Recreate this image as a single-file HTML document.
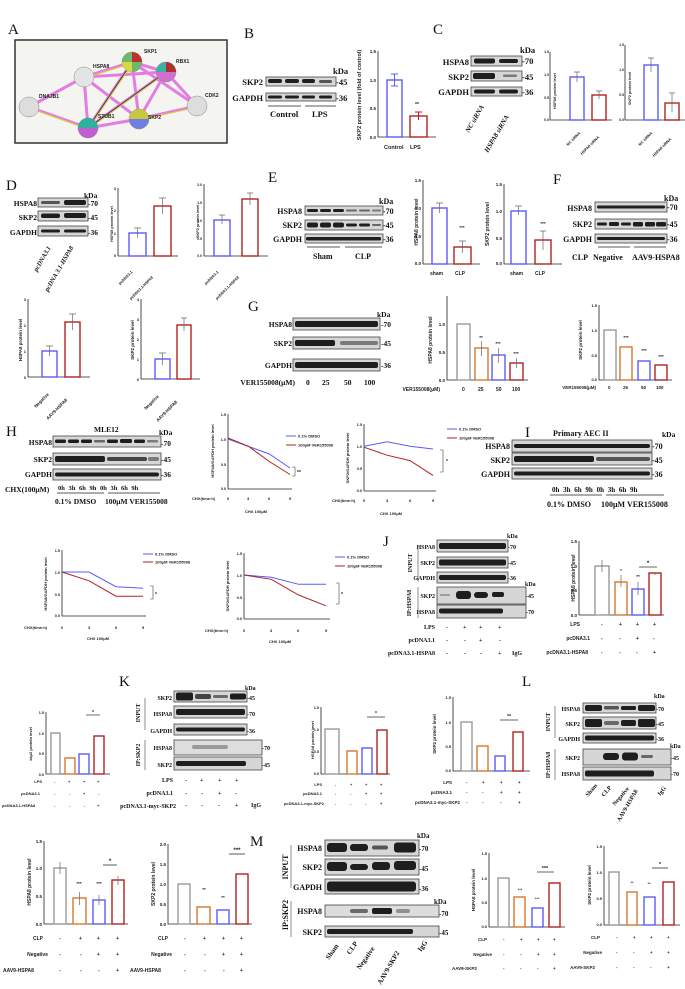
<!DOCTYPE html>
<html><head><meta charset="utf-8"><style>
html,body{margin:0;padding:0;background:#fff;width:685px;height:989px;overflow:hidden}
svg{display:block}
.s{font-family:"Liberation Sans",sans-serif;font-weight:bold;fill:#222}
.r{font-family:"Liberation Serif",serif;font-weight:bold;fill:#111}
.L{font-family:"Liberation Serif",serif;font-size:15px;fill:#111}
.ax{stroke:#222;stroke-width:0.8;fill:none}
.bl{fill:#d6d6d6;stroke:#444;stroke-width:0.8}
.bd{fill:#1e1e1e}
.bB{fill:none;stroke:#5b5bff;stroke-width:1.4}
.bR{fill:none;stroke:#b22222;stroke-width:1.4}
.bG{fill:none;stroke:#999;stroke-width:1.4}
.bO{fill:none;stroke:#d9782d;stroke-width:1.4}
</style></head><body>
<svg width="685" height="989" viewBox="0 0 685 989" xmlns="http://www.w3.org/2000/svg">
<!-- A -->
<text class="L" x="8" y="34">A</text>
<rect x="15" y="40" width="212" height="103" fill="#f4f4f0" stroke="#333" stroke-width="1.5"/>
<g stroke-width="3" stroke="#e060e0" opacity="0.8">
<line x1="29" y1="107" x2="84" y2="77"/><line x1="29" y1="107" x2="88" y2="128"/>
<line x1="84" y1="77" x2="132" y2="62"/><line x1="84" y1="77" x2="166" y2="72"/><line x1="84" y1="77" x2="88" y2="128"/><line x1="84" y1="77" x2="139" y2="119"/>
<line x1="132" y1="62" x2="166" y2="72"/><line x1="132" y1="62" x2="139" y2="119"/><line x1="132" y1="62" x2="197" y2="106"/><line x1="132" y1="62" x2="88" y2="128"/>
<line x1="166" y1="72" x2="139" y2="119"/><line x1="166" y1="72" x2="197" y2="106"/><line x1="166" y1="72" x2="88" y2="128"/>
<line x1="88" y1="128" x2="139" y2="119"/><line x1="139" y1="119" x2="197" y2="106"/>
</g>
<g stroke-width="1" stroke="#d8d820">
<line x1="29" y1="108" x2="88" y2="129"/><line x1="85" y1="78" x2="133" y2="63"/><line x1="133" y1="63" x2="88" y2="129"/><line x1="139" y1="120" x2="197" y2="107"/><line x1="166" y1="73" x2="88" y2="129"/>
</g>
<g stroke-width="0.8" stroke="#333"><line x1="132" y1="62" x2="88" y2="128"/><line x1="166" y1="72" x2="88" y2="128"/></g>
<g stroke="#888" stroke-width="0.5">
<circle cx="84" cy="77" r="10" fill="#e4e4e4"/><circle cx="29" cy="107" r="10" fill="#ddd"/><circle cx="197" cy="106" r="10" fill="#ddd"/>
<circle cx="132" cy="62" r="10" fill="#6fb86f"/><circle cx="166" cy="72" r="10" fill="#d070d0"/><circle cx="88" cy="128" r="10" fill="#c060d0"/><circle cx="139" cy="119" r="10" fill="#7080e0"/>
</g>
<path d="M132 52 A10 10 0 0 1 142 62 L132 62Z" fill="#c03030"/><path d="M122 62 A10 10 0 0 0 132 72 L132 62Z" fill="#d8d840"/>
<path d="M166 62 A10 10 0 0 1 176 72 L166 72Z" fill="#b03030"/><path d="M156 72 A10 10 0 0 1 166 62 L166 72Z" fill="#40b0a0"/>
<path d="M78 128 A10 10 0 0 1 98 128Z" fill="#30b0a0"/><path d="M129 119 A10 10 0 0 1 149 119Z" fill="#c8c840"/>
<g class="s" font-size="5" font-weight="normal" fill="#333">
<text x="144" y="53">SKP1</text><text x="176" y="63">RBX1</text><text x="93" y="68">HSPA8</text><text x="39" y="98">DNAJB1</text><text x="98" y="118">STUB1</text><text x="148" y="119">SKP2</text><text x="205" y="97">CDK2</text></g>

<!-- B -->
<text class="L" x="244" y="38">B</text>
<rect class="bl" x="266" y="77" width="70" height="9"/>
<rect class="bd" x="268" y="79" width="14" height="4" rx="2"/><rect class="bd" x="285" y="79" width="14" height="4" rx="2"/><rect class="bd" x="302" y="79" width="13" height="4" rx="2"/><rect class="bd" x="319" y="80" width="13" height="3" rx="1.5" opacity=".7"/>
<rect class="bl" x="266" y="93" width="70" height="8"/>
<rect class="bd" x="268" y="95.5" width="14" height="3" rx="1.5"/><rect class="bd" x="285" y="95.5" width="14" height="3" rx="1.5"/><rect class="bd" x="302" y="95.5" width="13" height="3" rx="1.5"/><rect class="bd" x="319" y="95.5" width="13" height="3" rx="1.5"/>
<g class="r" font-size="8.5"><text x="263" y="85" text-anchor="end">SKP2</text><text x="263" y="101" text-anchor="end">GAPDH</text>
<text x="333" y="74">kDa</text><text x="336" y="85">-45</text><text x="336" y="101">-36</text>
<text x="270" y="117">Control</text><text x="312" y="117">LPS</text></g>
<line class="ax" x1="268" y1="106" x2="301" y2="106"/><line class="ax" x1="305" y1="106" x2="336" y2="106"/>
<path class="ax" d="M378 51V137H436"/>
<g class="s" font-size="4.5" text-anchor="end"><text x="376" y="53">1.5</text><text x="376" y="82">1.0</text><text x="376" y="110">0.5</text><text x="376" y="139">0.0</text></g>
<rect class="bB" x="387" y="80" width="15" height="57"/><rect class="bR" x="410" y="116" width="17" height="21"/>
<path d="M394.5 74V86M391 74H398M391 86H398" stroke="#5b5bff" fill="none"/><path d="M418.5 112V120M415 112H422" stroke="#b22222" fill="none"/>
<text class="s" x="417" y="106" font-size="5" fill="#b22222" text-anchor="middle">**</text>
<g class="s" font-size="5.5"><text x="384" y="149">Control</text><text x="410" y="149">LPS</text>
<text transform="translate(361,95) rotate(-90)" text-anchor="middle">SKP2 protein level (fold of control)</text></g>

<!-- C -->
<text class="L" x="433" y="34">C</text>
<rect class="bl" x="471" y="56" width="51" height="10"/><rect class="bd" x="474" y="58.5" width="21" height="5" rx="2"/><rect class="bd" x="499" y="59" width="19" height="4" rx="2"/>
<rect class="bl" x="471" y="71" width="51" height="10"/><rect class="bd" x="473" y="73" width="22" height="6" rx="2"/><rect class="bd" x="503" y="74.5" width="14" height="2.5" rx="1" opacity=".5"/>
<rect class="bl" x="471" y="87" width="51" height="9"/><rect class="bd" x="474" y="89.5" width="21" height="4" rx="2"/><rect class="bd" x="499" y="89.5" width="19" height="4" rx="2"/>
<g class="r" font-size="8.5"><text x="469" y="65" text-anchor="end">HSPA8</text><text x="469" y="80" text-anchor="end">SKP2</text><text x="469" y="95" text-anchor="end">GAPDH</text>
<text x="520" y="53">kDa</text><text x="522" y="64">-70</text><text x="522" y="80">-45</text><text x="522" y="95">-36</text></g>
<g class="r" font-size="7" font-style="italic"><text transform="translate(469,133) rotate(-60)">NC siRNA</text><text transform="translate(488,153) rotate(-60)">HSPA8 siRNA</text></g>
<path class="ax" d="M550 52V120H612"/>
<g class="s" font-size="3.5" text-anchor="end"><text x="549" y="53">1.5</text><text x="549" y="76">1.0</text><text x="549" y="99">0.5</text><text x="549" y="121">0.0</text></g>
<rect class="bB" x="570" y="77" width="14" height="43"/><rect class="bR" x="592" y="95" width="14" height="25"/>
<path d="M577 72V82M574 72H580M599 91V99M596 91H602" stroke="#666" fill="none" stroke-width=".7"/>
<g class="s" font-size="3.8"><text transform="translate(556,109) rotate(-90)">HSPA8 protein level</text>
<text transform="translate(568,146) rotate(-45)">NC siRNA</text><text transform="translate(582,155) rotate(-45)">HSPA8 siRNA</text></g>
<path class="ax" d="M625 45V120H686"/>
<g class="s" font-size="3.5" text-anchor="end"><text x="624" y="46">1.5</text><text x="624" y="71">1.0</text><text x="624" y="96">0.5</text><text x="624" y="121">0.0</text></g>
<rect class="bB" x="644" y="65" width="14" height="55"/><rect class="bR" x="665" y="103" width="14" height="17"/>
<path d="M651 58V72M648 58H654M672 93V112M669 93H675" stroke="#666" fill="none" stroke-width=".7"/>
<g class="s" font-size="3.8"><text transform="translate(631,105) rotate(-90)">SKP2 protein level</text>
<text transform="translate(640,146) rotate(-45)">NC siRNA</text><text transform="translate(654,157) rotate(-45)">HSPA8 siRNA</text></g>

<!-- D -->
<text class="L" x="6" y="190">D</text>
<rect class="bl" x="38" y="198" width="50" height="9"/><rect class="bd" x="41" y="201" width="19" height="3" rx="1.5" opacity=".7"/><rect class="bd" x="64" y="200" width="22" height="5" rx="2"/>
<rect class="bl" x="38" y="211" width="50" height="10"/><rect class="bd" x="41" y="213.5" width="19" height="4.5" rx="2"/><rect class="bd" x="64" y="213" width="22" height="5" rx="2"/>
<rect class="bl" x="38" y="226" width="50" height="10"/><rect class="bd" x="41" y="229.5" width="19" height="3" rx="1.5"/><rect class="bd" x="64" y="229.5" width="22" height="3" rx="1.5"/>
<g class="r" font-size="7.5"><text x="37" y="206" text-anchor="end">HSPA8</text><text x="37" y="220" text-anchor="end">SKP2</text><text x="37" y="235" text-anchor="end">GAPDH</text>
<text x="84" y="198">kDa</text><text x="88" y="206">-70</text><text x="88" y="220">-45</text><text x="88" y="235">-36</text></g>
<g class="r" font-size="6.5" font-style="italic"><text transform="translate(37,272) rotate(-60)">pcDNA3.1</text><text transform="translate(48,292) rotate(-60)">pcDNA 3.1-HSPA8</text></g>
<path class="ax" d="M118 188V256H178"/>
<g class="s" font-size="3.8" text-anchor="end"><text x="116" y="190">3</text><text x="116" y="212">2</text><text x="116" y="235">1</text><text x="116" y="257">0</text></g>
<rect class="bB" x="129" y="233" width="17" height="23"/><rect class="bR" x="154" y="206" width="17" height="50"/>
<path d="M137.5 228V238M134 228H141M162.5 198V214M159 198H166" stroke="#666" fill="none" stroke-width=".7"/>
<g class="s" font-size="3.8"><text transform="translate(113,242) rotate(-90)">HSPA8 protein level</text>
<text transform="translate(120,285) rotate(-45)">pcDNA3.1</text><text transform="translate(131,300) rotate(-45)">pcDNA3.1-HSPA8</text></g>
<path class="ax" d="M204 184V256H268"/>
<g class="s" font-size="3.5" text-anchor="end"><text x="202" y="186">2.0</text><text x="202" y="204">1.5</text><text x="202" y="222">1.0</text><text x="202" y="240">0.5</text><text x="202" y="257">0.0</text></g>
<rect class="bB" x="214" y="220" width="16" height="36"/><rect class="bR" x="242" y="199" width="16" height="57"/>
<path d="M222 215V224M219 215H225M250 193V205M247 193H253" stroke="#666" fill="none" stroke-width=".7"/>
<g class="s" font-size="3.8"><text transform="translate(199,238) rotate(-90)">SKP2 protein level</text>
<text transform="translate(206,285) rotate(-45)">pcDNA3.1</text><text transform="translate(217,300) rotate(-45)">pcDNA3.1-HSPA8</text></g>

<!-- E -->
<text class="L" x="268" y="182">E</text>
<rect class="bl" x="305" y="206" width="78" height="9"/>
<rect class="bd" x="307" y="209" width="11" height="3" rx="1.5"/><rect class="bd" x="320" y="209" width="11" height="3" rx="1.5"/><rect class="bd" x="333" y="209" width="11" height="3" rx="1.5"/><rect class="bd" x="346" y="209.5" width="11" height="2" rx="1" opacity=".6"/><rect class="bd" x="359" y="209.5" width="11" height="2" rx="1" opacity=".6"/><rect class="bd" x="372" y="209.5" width="9" height="2" rx="1" opacity=".5"/>
<rect class="bl" x="305" y="220" width="78" height="10"/>
<rect class="bd" x="307" y="222.5" width="11" height="5" rx="2"/><rect class="bd" x="320" y="222.5" width="11" height="5" rx="2"/><rect class="bd" x="333" y="222.5" width="11" height="5" rx="2"/><rect class="bd" x="346" y="223.5" width="11" height="3" rx="1.5"/><rect class="bd" x="359" y="223.5" width="11" height="3" rx="1.5"/><rect class="bd" x="372" y="224" width="9" height="2" rx="1" opacity=".6"/>
<rect class="bl" x="305" y="234" width="78" height="9"/>
<rect class="bd" x="306" y="237" width="75" height="3.5" rx="1.5"/>
<g class="r" font-size="8"><text x="302" y="214" text-anchor="end">HSPA8</text><text x="302" y="228" text-anchor="end">SKP2</text><text x="302" y="242" text-anchor="end">GAPDH</text>
<text x="379" y="204">kDa</text><text x="383" y="214">-70</text><text x="383" y="228">-45</text><text x="383" y="242">-36</text>
<text x="313" y="259">Sham</text><text x="355" y="259">CLP</text></g>
<line class="ax" x1="307" y1="247" x2="340" y2="247"/><line class="ax" x1="345" y1="247" x2="382" y2="247"/>
<path class="ax" d="M423 180V264H480"/>
<g class="s" font-size="4.5" text-anchor="end"><text x="421" y="182">1.5</text><text x="421" y="210">1.0</text><text x="421" y="238">0.5</text><text x="421" y="265">0.0</text></g>
<rect class="bB" x="432" y="208" width="15" height="56"/><rect class="bR" x="454" y="247" width="17" height="17"/>
<path d="M439.5 203V213M436 203H443M462.5 241V253M459 241H466" stroke="#666" fill="none" stroke-width=".7"/>
<text class="s" x="462" y="229" font-size="4.5" fill="#b22222" text-anchor="middle">***</text>
<g class="s" font-size="5"><text x="430" y="275">sham</text><text x="455" y="275">CLP</text><text transform="translate(418,222) rotate(-90)" text-anchor="middle">HSPA8 protein level</text></g>
<path class="ax" d="M504 184V264H562"/>
<g class="s" font-size="4.5" text-anchor="end"><text x="502" y="186">1.5</text><text x="502" y="213">1.0</text><text x="502" y="240">0.5</text><text x="502" y="265">0.0</text></g>
<rect class="bB" x="511" y="211" width="15" height="53"/><rect class="bR" x="535" y="240" width="16" height="24"/>
<path d="M518.5 206V215M515 206H522M543 231V250M540 231H546" stroke="#666" fill="none" stroke-width=".7"/>
<text class="s" x="543" y="225" font-size="4.5" fill="#b22222" text-anchor="middle">***</text>
<g class="s" font-size="5"><text x="510" y="275">sham</text><text x="535" y="275">CLP</text><text transform="translate(489,224) rotate(-90)" text-anchor="middle">SKP2 protein level</text></g>

<!-- F -->
<text class="L" x="553" y="184">F</text>
<rect class="bl" x="595" y="202" width="72" height="10"/><rect class="bd" x="597" y="205.5" width="68" height="3" rx="1.5"/>
<rect class="bl" x="595" y="219" width="72" height="10"/>
<rect class="bd" x="597" y="222.5" width="10" height="3" rx="1.5"/><rect class="bd" x="609" y="222" width="10" height="4" rx="1.5"/><rect class="bd" x="621" y="222.5" width="10" height="3" rx="1.5"/><rect class="bd" x="633" y="222" width="10" height="4.5" rx="1.5"/><rect class="bd" x="645" y="222" width="10" height="4.5" rx="1.5"/><rect class="bd" x="656" y="222" width="10" height="4.5" rx="1.5"/>
<rect class="bl" x="595" y="234" width="72" height="9"/><rect class="bd" x="597" y="237" width="68" height="3" rx="1.5"/>
<g class="r" font-size="8"><text x="592" y="211" text-anchor="end">HSPA8</text><text x="592" y="227" text-anchor="end">SKP2</text><text x="592" y="242" text-anchor="end">GAPDH</text>
<text x="664" y="201">kDa</text><text x="667" y="210">-70</text><text x="667" y="227">-45</text><text x="667" y="242">-36</text>
<text x="572" y="260">CLP</text><text x="593" y="260">Negative</text><text x="632" y="260">AAV9-HSPA8</text></g>
<line class="ax" x1="598" y1="247" x2="630" y2="247"/><line class="ax" x1="634" y1="247" x2="666" y2="247"/>

<!-- Negative/AAV9 charts -->
<path class="ax" d="M28 299V377H90"/>
<g class="s" font-size="4" text-anchor="end"><text x="26" y="301">3</text><text x="26" y="327">2</text><text x="26" y="353">1</text><text x="26" y="379">0</text></g>
<rect class="bB" x="42" y="351" width="15" height="26"/><rect class="bR" x="65" y="322" width="15" height="55"/>
<path d="M49.5 346V356M46 346H53M72.5 314V330M69 314H76" stroke="#666" fill="none" stroke-width=".7"/>
<g class="s" font-size="4.5"><text transform="translate(22,340) rotate(-90)" text-anchor="middle">HSPA8 protein level</text>
<text transform="translate(36,408) rotate(-45)">Negative</text><text transform="translate(48,420) rotate(-45)">AAV9-HSPA8</text></g>
<path class="ax" d="M141 299V379H200"/>
<g class="s" font-size="4" text-anchor="end"><text x="139" y="301">4</text><text x="139" y="321">3</text><text x="139" y="341">2</text><text x="139" y="361">1</text><text x="139" y="381">0</text></g>
<rect class="bB" x="155" y="359" width="15" height="20"/><rect class="bR" x="177" y="325" width="14" height="54"/>
<path d="M162.5 353V365M159 353H166M184 318V331M181 318H187" stroke="#666" fill="none" stroke-width=".7"/>
<g class="s" font-size="4.5"><text transform="translate(134,340) rotate(-90)" text-anchor="middle">SKP2 protein level</text>
<text transform="translate(146,410) rotate(-45)">Negative</text><text transform="translate(158,422) rotate(-45)">AAV9-HSPA8</text></g>

<!-- G -->
<text class="L" x="248" y="311">G</text>
<rect class="bl" x="293" y="318" width="87" height="12"/><rect class="bd" x="295" y="321" width="83" height="6" rx="2"/>
<rect class="bl" x="293" y="337" width="87" height="12"/><rect class="bd" x="295" y="340" width="40" height="6" rx="2"/><rect class="bd" x="340" y="341" width="38" height="4" rx="2" opacity=".5"/>
<rect class="bl" x="293" y="359" width="87" height="12"/><rect class="bd" x="295" y="362" width="83" height="6" rx="2"/>
<g class="r" font-size="7.5"><text x="292" y="327" text-anchor="end">HSPA8</text><text x="292" y="346" text-anchor="end">SKP2</text><text x="292" y="368" text-anchor="end">GAPDH</text>
<text x="377" y="317">kDa</text><text x="381" y="327">-70</text><text x="381" y="346">-45</text><text x="381" y="368">-36</text>
<text x="295" y="385" text-anchor="end">VER155008(μM)</text><text x="306" y="385">0</text><text x="322" y="385">25</text><text x="344" y="385">50</text><text x="364" y="385">100</text></g>
<path class="ax" d="M447 296V380H528"/>
<g class="s" font-size="4.5" text-anchor="end"><text x="445" y="326">1.0</text><text x="445" y="354">0.5</text><text x="445" y="382">0.0</text></g>
<rect class="bG" x="457" y="324" width="13" height="56"/><rect class="bO" x="475" y="348" width="13" height="32"/><rect class="bB" x="492" y="355" width="13" height="25"/><rect class="bR" x="510" y="363" width="13" height="17"/>
<path d="M481.5 341V356M498.5 348V363M516.5 358V368" stroke="#666" fill="none" stroke-width=".7"/>
<g class="s" font-size="4.5" fill="#333" text-anchor="middle"><text x="481" y="339">**</text><text x="498" y="345">***</text><text x="516" y="355">***</text></g>
<g class="s" font-size="5"><text x="440" y="391" text-anchor="end">VER155008(μM)</text><text x="462" y="391">0</text><text x="478" y="391">25</text><text x="496" y="391">50</text><text x="512" y="391">100</text>
<text transform="translate(432,340) rotate(-90)" text-anchor="middle">HSPA8 protein level</text></g>
<path class="ax" d="M599 305V380H672"/>
<g class="s" font-size="4" text-anchor="end"><text x="597" y="307">1.5</text><text x="597" y="332">1.0</text><text x="597" y="357">0.5</text><text x="597" y="381">0.0</text></g>
<rect class="bG" x="604" y="330" width="12" height="50"/><rect class="bO" x="620" y="347" width="12" height="33"/><rect class="bB" x="638" y="361" width="12" height="19"/><rect class="bR" x="655" y="365" width="12" height="15"/>
<g class="s" font-size="4.5" fill="#333" text-anchor="middle"><text x="626" y="339">***</text><text x="644" y="352">***</text><text x="661" y="358">***</text></g>
<g class="s" font-size="4.5"><text x="596" y="389" text-anchor="end">VER155008(μM)</text><text x="608" y="389">0</text><text x="623" y="389">25</text><text x="641" y="389">50</text><text x="656" y="389">100</text>
<text transform="translate(582,340) rotate(-90)" text-anchor="middle">SKP2 protein level</text></g>

<!-- H -->
<text class="L" x="6" y="436">H</text>
<text class="r" x="94" y="432" font-size="7.5">MLE12</text>
<rect class="bl" x="53" y="436" width="108" height="11"/>
<rect class="bd" x="55" y="439.5" width="11" height="3.5" rx="1.5"/><rect class="bd" x="68" y="439.5" width="11" height="3.5" rx="1.5"/><rect class="bd" x="81" y="439.5" width="11" height="3.5" rx="1.5"/><rect class="bd" x="94" y="440" width="11" height="2.5" rx="1" opacity=".6"/><rect class="bd" x="107" y="439.5" width="11" height="3.5" rx="1.5"/><rect class="bd" x="120" y="439" width="12" height="4" rx="1.5"/><rect class="bd" x="134" y="439.5" width="11" height="3.5" rx="1.5"/><rect class="bd" x="147" y="440" width="11" height="2.5" rx="1" opacity=".5"/>
<rect class="bl" x="53" y="453" width="108" height="12"/>
<rect class="bd" x="55" y="456" width="50" height="6" rx="2"/><rect class="bd" x="107" y="457" width="40" height="4" rx="2" opacity=".8"/><rect class="bd" x="148" y="457" width="11" height="4" rx="2" opacity=".5"/>
<rect class="bl" x="53" y="469" width="108" height="11"/><rect class="bd" x="55" y="472.5" width="104" height="4" rx="2"/>
<g class="r" font-size="7.5"><text x="52" y="445" text-anchor="end">HSPA8</text><text x="52" y="462" text-anchor="end">SKP2</text><text x="52" y="477" text-anchor="end">GAPDH</text>
<text x="159" y="435">kDa</text><text x="161" y="446">-70</text><text x="161" y="462">-45</text><text x="161" y="477">-36</text>
<text x="5" y="492">CHX(100μM)</text><text x="58" y="490" font-size="6.5" word-spacing="2">0h 3h 6h 9h 0h 3h 6h 9h</text>
<text x="55" y="504">0.1% DMSO</text><text x="105" y="504">100μM VER155008</text></g>
<line class="ax" x1="57" y1="493" x2="104" y2="493"/><line class="ax" x1="108" y1="493" x2="160" y2="493"/>
<path class="ax" d="M228 414V489H292"/>
<g class="s" font-size="3.8" text-anchor="end"><text x="226" y="416">1.5</text><text x="226" y="441">1.0</text><text x="226" y="466">0.5</text><text x="226" y="490">0.0</text></g>
<polyline points="228,439 248.7,446.5 269.3,454 290,468" fill="none" stroke="#5b5bff" stroke-width="1"/>
<polyline points="228,438 248.7,446.5 269.3,461.5 290,474.5" fill="none" stroke="#b22222" stroke-width="1"/>
<line x1="286" y1="436" x2="296" y2="436" stroke="#5b5bff"/><line x1="286" y1="445" x2="296" y2="445" stroke="#b22222"/>
<g class="s" font-size="4"><text x="298" y="437.5">0.1% DMSO</text><text x="298" y="446.5">100μM VER155008</text>
<text x="192" y="500">CHX(time:h)</text><text x="227" y="500">0</text><text x="247" y="500">3</text><text x="268" y="500">6</text><text x="289" y="500">9</text><text x="245" y="513">CHX 100μM</text>
<text transform="translate(214,451) rotate(-90)" text-anchor="middle">HSPA8/GAPDH protein level</text></g>
<path d="M292 467H295V476H292" fill="none" stroke="#444" stroke-width=".6"/><text class="s" x="297" y="474" font-size="5">**</text>
<path class="ax" d="M364 424V491H436"/>
<g class="s" font-size="3.8" text-anchor="end"><text x="362" y="426">1.5</text><text x="362" y="448">1.0</text><text x="362" y="470">0.5</text><text x="362" y="492">0.0</text></g>
<polyline points="364,446.3 387,441.8 410,446.3 433,449" fill="none" stroke="#5b5bff" stroke-width="1"/>
<polyline points="364,447.2 387,455.2 410,460.6 433,475.4" fill="none" stroke="#b22222" stroke-width="1"/>
<line x1="447" y1="429" x2="457" y2="429" stroke="#5b5bff"/><line x1="447" y1="438" x2="457" y2="438" stroke="#b22222"/>
<g class="s" font-size="4"><text x="459" y="430.5">0.1% DMSO</text><text x="459" y="439.5">100μM VER155008</text>
<text x="332" y="502">CHX(time:h)</text><text x="363" y="502">0</text><text x="386" y="502">3</text><text x="409" y="502">6</text><text x="432" y="502">9</text><text x="380" y="515">CHX 100μM</text>
<text transform="translate(349,458) rotate(-90)" text-anchor="middle">SKP2/GAPDH protein level</text></g>
<path d="M440 450H443V472H440" fill="none" stroke="#444" stroke-width=".6"/><text class="s" x="446" y="463" font-size="5">*</text>

<!-- I -->
<text class="L" x="525" y="437">I</text>
<text class="r" x="553" y="436" font-size="8">Primary AEC II</text>
<rect class="bl" x="512" y="440" width="140" height="12"/>
<rect class="bd" x="514" y="444" width="136" height="4" rx="2"/>
<rect class="bl" x="512" y="453" width="140" height="12"/>
<rect class="bd" x="514" y="456" width="80" height="6" rx="2"/><rect class="bd" x="596" y="457" width="54" height="4" rx="2" opacity=".7"/>
<rect class="bl" x="512" y="468" width="140" height="11"/><rect class="bd" x="514" y="471.5" width="136" height="4" rx="2"/>
<g class="r" font-size="8"><text x="510" y="449" text-anchor="end">HSPA8</text><text x="510" y="463" text-anchor="end">SKP2</text><text x="510" y="477" text-anchor="end">GAPDH</text>
<text x="662" y="437" font-size="7.5">kDa</text><text x="652" y="449">-70</text><text x="652" y="463">-45</text><text x="652" y="477">-36</text>
<text x="552" y="492" font-size="7" word-spacing="2">0h 3h 6h 9h 0h 3h 6h 9h</text>
<text x="547" y="507">0.1% DMSO</text><text x="601" y="507">100μM VER155008</text></g>
<line class="ax" x1="550" y1="495" x2="602" y2="495"/><line class="ax" x1="606" y1="495" x2="664" y2="495"/>

<!-- Lower line charts -->
<path class="ax" d="M62 550V616H146"/>
<g class="s" font-size="3.8" text-anchor="end"><text x="60" y="552">1.5</text><text x="60" y="574">1.0</text><text x="60" y="596">0.5</text><text x="60" y="617">0.0</text></g>
<polyline points="62,572 89,572 116,586.7 143,588.2" fill="none" stroke="#5b5bff" stroke-width="1"/>
<polyline points="62,572 89,580.8 116,596.2 143,596.2" fill="none" stroke="#b22222" stroke-width="1"/>
<line x1="143" y1="554" x2="153" y2="554" stroke="#5b5bff"/><line x1="143" y1="562" x2="153" y2="562" stroke="#b22222"/>
<g class="s" font-size="4"><text x="155" y="555.5">0.1% DMSO</text><text x="155" y="563.5">100μM VER155008</text>
<text x="24" y="629">CHX(time:h)</text><text x="61" y="629">0</text><text x="88" y="629">3</text><text x="115" y="629">6</text><text x="142" y="629">9</text><text x="87" y="640">CHX 100μM</text>
<text transform="translate(47,584) rotate(-90)" text-anchor="middle">HSPA8/GAPDH protein level</text></g>
<path d="M150 586H153V599H150" fill="none" stroke="#444" stroke-width=".6"/><text class="s" x="155" y="596" font-size="5">*</text>
<path class="ax" d="M244 553V619H330"/>
<g class="s" font-size="3.8" text-anchor="end"><text x="242" y="555">1.5</text><text x="242" y="577">1.0</text><text x="242" y="599">0.5</text><text x="242" y="620">0.0</text></g>
<polyline points="244,575 271.3,577.3 298.6,584.3 326,584.3" fill="none" stroke="#5b5bff" stroke-width="1"/>
<polyline points="244,575 271.3,579.3 298.6,595 326,605.8" fill="none" stroke="#b22222" stroke-width="1"/>
<line x1="335" y1="557" x2="345" y2="557" stroke="#5b5bff"/><line x1="335" y1="566" x2="345" y2="566" stroke="#b22222"/>
<g class="s" font-size="4"><text x="347" y="558.5">0.1% DMSO</text><text x="347" y="567.5">100μM VER155008</text>
<text x="205" y="632">CHX(time:h)</text><text x="243" y="632">0</text><text x="270" y="632">3</text><text x="297" y="632">6</text><text x="325" y="632">9</text><text x="269" y="643">CHX 100μM</text>
<text transform="translate(229,586) rotate(-90)" text-anchor="middle">SKP2/GAPDH protein level</text></g>
<path d="M336 583H339V604H336" fill="none" stroke="#444" stroke-width=".6"/><text class="s" x="341" y="596" font-size="5">*</text>

<!-- J -->
<text class="L" x="383" y="546">J</text>
<rect class="bl" x="437" y="540" width="71" height="12"/><rect class="bd" x="439" y="543" width="67" height="6" rx="2"/>
<rect class="bl" x="437" y="557" width="71" height="11"/><rect class="bd" x="439" y="559.5" width="67" height="6" rx="2"/>
<rect class="bl" x="437" y="572" width="71" height="11"/><rect class="bd" x="439" y="575" width="67" height="5" rx="2"/>
<rect class="bl" x="437" y="587" width="89" height="17"/>
<rect class="bd" x="456" y="591" width="15" height="8" rx="3"/><rect class="bd" x="474" y="592" width="14" height="6" rx="3"/><rect class="bd" x="492" y="592" width="12" height="5" rx="2"/><rect class="bd" x="440" y="594" width="10" height="2" opacity=".3"/>
<rect class="bl" x="437" y="605" width="89" height="13"/><rect class="bd" x="439" y="608.5" width="64" height="5" rx="2"/>
<g class="r" font-size="6"><text x="435" y="549" text-anchor="end">HSPA8</text><text x="435" y="565" text-anchor="end">SKP2</text><text x="435" y="580" text-anchor="end">GAPDH</text>
<text x="435" y="598" text-anchor="end">SKP2</text><text x="435" y="614" text-anchor="end">HSPA8</text>
<text x="507" y="538">kDa</text><text x="508" y="549">-70</text><text x="508" y="565">-45</text><text x="508" y="580">-36</text>
<text x="525" y="586">kDa</text><text x="526" y="598">-45</text><text x="526" y="614">-70</text>
<text transform="translate(412,563) rotate(-90)" text-anchor="middle">INPUT</text><text transform="translate(411,603) rotate(-90)" text-anchor="middle">IP:HSPA8</text>
<text x="435" y="629" text-anchor="end">LPS</text><text x="435" y="642" text-anchor="end">pcDNA3.1</text><text x="435" y="655" text-anchor="end">pcDNA3.1-HSPA8</text><text x="512" y="655">IgG</text>
<text x="446" y="629">-</text><text x="463" y="629">+</text><text x="479" y="629">+</text><text x="498" y="629">+</text>
<text x="446" y="642">-</text><text x="464" y="642">-</text><text x="479" y="642">+</text><text x="499" y="642">-</text>
<text x="446" y="655">-</text><text x="464" y="655">-</text><text x="480" y="655">-</text><text x="498" y="655">+</text></g>
<line x1="418" y1="545" x2="418" y2="582" stroke="#444" stroke-width=".6"/><line x1="418" y1="587" x2="418" y2="618" stroke="#444" stroke-width=".6"/>
<path class="ax" d="M579 541V615H664"/>
<g class="s" font-size="4.5" text-anchor="end"><text x="577" y="543">1.5</text><text x="577" y="568">1.0</text><text x="577" y="592">0.5</text><text x="577" y="617">0.0</text></g>
<rect class="bG" x="595" y="566" width="14" height="49"/><rect class="bO" x="615" y="582" width="12" height="33"/><rect class="bB" x="632" y="589" width="12" height="26"/><rect class="bR" x="649" y="573" width="12" height="42"/>
<path d="M602 560V572M621 575V587M638 582V595M655 572V575" stroke="#666" fill="none" stroke-width=".7"/>
<path d="M639 567H657" stroke="#333" stroke-width=".8"/><text class="s" x="648" y="565" font-size="6" text-anchor="middle">*</text>
<g class="s" font-size="4.5" fill="#333" text-anchor="middle"><text x="621" y="572">*</text><text x="638" y="578">**</text></g>
<g class="s" font-size="5"><text transform="translate(575,578) rotate(-90)" text-anchor="middle">HSPA8 protein level</text>
<text x="580" y="626" text-anchor="end">LPS</text><text x="590" y="640" text-anchor="end">pcDNA3.1</text><text x="588" y="654" text-anchor="end">pcDNA3.1-HSPA8</text>
<text x="601" y="626">-</text><text x="619" y="626">+</text><text x="636" y="626">+</text><text x="653" y="626">+</text>
<text x="601" y="640">-</text><text x="619" y="640">-</text><text x="636" y="640">+</text><text x="653" y="640">-</text>
<text x="601" y="654">-</text><text x="619" y="654">-</text><text x="636" y="654">-</text><text x="653" y="654">+</text></g>

<!-- K skp2 chart -->
<path class="ax" d="M46 712V774H110"/>
<g class="s" font-size="3.8" text-anchor="end"><text x="44" y="714">1.5</text><text x="44" y="735">1.0</text><text x="44" y="755">0.5</text><text x="44" y="776">0.0</text></g>
<rect class="bG" x="51" y="733" width="9" height="41"/><rect class="bO" x="65" y="758" width="10" height="16"/><rect class="bB" x="79" y="754" width="10" height="20"/><rect class="bR" x="94" y="736" width="10" height="38"/>
<path d="M86 715H100" stroke="#333" stroke-width=".7"/><text class="s" x="93" y="714" font-size="5" text-anchor="middle">*</text>
<g class="s" font-size="4"><text transform="translate(32,744) rotate(-90)" text-anchor="middle">skp2 protein level</text>
<text x="42" y="783" text-anchor="end">LPS</text><text x="40" y="795" text-anchor="end">pcDNA3.1</text><text x="2" y="807">pcDNA3.1-HSPA8</text>
<text x="54" y="783">-</text><text x="68" y="783">+</text><text x="83" y="783">+</text><text x="97" y="783">+</text>
<text x="54" y="795">-</text><text x="69" y="795">-</text><text x="83" y="795">+</text><text x="98" y="795">-</text>
<text x="54" y="807">-</text><text x="69" y="807">-</text><text x="84" y="807">-</text><text x="97" y="807">+</text></g>

<!-- K -->
<text class="L" x="119" y="686">K</text>
<rect class="bl" x="174" y="691" width="73" height="11"/><rect class="bd" x="176" y="692.5" width="17" height="8" rx="2"/><rect class="bd" x="195" y="694" width="16" height="5" rx="2" opacity=".8"/><rect class="bd" x="213" y="695" width="15" height="3" rx="1.5" opacity=".6"/><rect class="bd" x="230" y="693.5" width="16" height="6" rx="2"/>
<rect class="bl" x="174" y="706" width="73" height="12"/><rect class="bd" x="176" y="709" width="69" height="6" rx="2"/>
<rect class="bl" x="174" y="724" width="73" height="11"/><rect class="bd" x="176" y="727.5" width="69" height="4" rx="2"/>
<rect class="bl" x="174" y="740" width="88" height="15" style="fill:#ddd"/><rect class="bd" x="192" y="745" width="36" height="4" rx="2" opacity=".35"/>
<rect class="bl" x="174" y="757" width="88" height="13"/><rect class="bd" x="176" y="761" width="70" height="5" rx="2"/>
<g class="r" font-size="6"><text x="172" y="700" text-anchor="end">SKP2</text><text x="172" y="716" text-anchor="end">HSPA8</text><text x="172" y="733" text-anchor="end">GAPDH</text>
<text x="172" y="750" text-anchor="end">HSPA8</text><text x="172" y="767" text-anchor="end">SKP2</text>
<text x="245" y="690">kDa</text><text x="247" y="700">-45</text><text x="247" y="716">-70</text><text x="247" y="733">-36</text><text x="262" y="750">-70</text><text x="262" y="767">-45</text>
<text transform="translate(140,713) rotate(-90)" text-anchor="middle">INPUT</text><text transform="translate(140,755) rotate(-90)" text-anchor="middle">IP:SKP2</text>
<text x="173" y="782" text-anchor="end">LPS</text><text x="173" y="795" text-anchor="end">pcDNA3.1</text><text x="176" y="808" text-anchor="end">pcDNA3.1-myc-SKP2</text><text x="251" y="807">IgG</text>
<text x="185" y="782">-</text><text x="200" y="782">+</text><text x="218" y="782">+</text><text x="235" y="782">+</text>
<text x="185" y="795">-</text><text x="201" y="795">-</text><text x="218" y="795">+</text><text x="235" y="795">-</text>
<text x="185" y="807">-</text><text x="201" y="807">-</text><text x="218" y="807">-</text><text x="235" y="807">+</text></g>
<line x1="145" y1="698" x2="145" y2="730" stroke="#444" stroke-width=".6"/><line x1="145" y1="740" x2="145" y2="770" stroke="#444" stroke-width=".6"/>
<path class="ax" d="M321 707V774H390"/>
<g class="s" font-size="3.8" text-anchor="end"><text x="319" y="709">1.5</text><text x="319" y="731">1.0</text><text x="319" y="753">0.5</text><text x="319" y="775">0.0</text></g>
<rect class="bG" x="325" y="729" width="14" height="45"/><rect class="bO" x="347" y="751" width="10" height="23"/><rect class="bB" x="362" y="748" width="10" height="26"/><rect class="bR" x="377" y="730" width="10" height="44"/>
<path d="M367 717H385" stroke="#333" stroke-width=".7"/><text class="s" x="376" y="715" font-size="5" text-anchor="middle">*</text>
<g class="s" font-size="4"><text transform="translate(314,740) rotate(-90)" text-anchor="middle">HSPA8 protein level</text>
<text x="322" y="786" text-anchor="end">LPS</text><text x="322" y="795" text-anchor="end">pcDNA3.1</text><text x="324" y="805" text-anchor="end">pcDNA3.1-myc-SKP2</text>
<text x="335" y="786">-</text><text x="350" y="786">+</text><text x="365" y="786">+</text><text x="380" y="786">+</text>
<text x="335" y="795">-</text><text x="350" y="795">-</text><text x="365" y="795">+</text><text x="380" y="795">+</text>
<text x="335" y="805">-</text><text x="350" y="805">-</text><text x="365" y="805">-</text><text x="380" y="805">+</text></g>
<path class="ax" d="M453 697V771H530"/>
<g class="s" font-size="4" text-anchor="end"><text x="451" y="699">1.5</text><text x="451" y="724">1.0</text><text x="451" y="748">0.5</text><text x="451" y="772">0.0</text></g>
<rect class="bG" x="461" y="722" width="11" height="49"/><rect class="bO" x="477" y="746" width="11" height="25"/><rect class="bB" x="495" y="756" width="10" height="15"/><rect class="bR" x="513" y="732" width="10" height="39"/>
<path d="M500 720H518" stroke="#333" stroke-width=".7"/><text class="s" x="509" y="718" font-size="5" text-anchor="middle">**</text>
<g class="s" font-size="4.5"><text transform="translate(436,734) rotate(-90)" text-anchor="middle">SKP2 protein level</text>
<text x="452" y="784" text-anchor="end">LPS</text><text x="452" y="794" text-anchor="end">pcDNA3.1</text><text x="460" y="804" text-anchor="end">pcDNA3.1-myc-SKP2</text>
<text x="466" y="784">-</text><text x="482" y="784">+</text><text x="500" y="784">+</text><text x="518" y="784">+</text>
<text x="466" y="794">-</text><text x="482" y="794">-</text><text x="500" y="794">+</text><text x="518" y="794">+</text>
<text x="466" y="804">-</text><text x="482" y="804">-</text><text x="500" y="804">-</text><text x="518" y="804">+</text></g>

<!-- L -->
<text class="L" x="522" y="686">L</text>
<rect class="bl" x="583" y="703" width="73" height="10"/><rect class="bd" x="585" y="705" width="17" height="6" rx="2"/><rect class="bd" x="604" y="706" width="15" height="3.5" rx="1.5" opacity=".7"/><rect class="bd" x="621" y="706" width="15" height="4" rx="1.5"/><rect class="bd" x="638" y="705" width="17" height="6" rx="2"/>
<rect class="bl" x="583" y="717" width="73" height="12"/><rect class="bd" x="585" y="719" width="17" height="8" rx="2"/><rect class="bd" x="604" y="721" width="15" height="4" rx="2" opacity=".6"/><rect class="bd" x="621" y="720" width="15" height="6" rx="2"/><rect class="bd" x="638" y="719" width="17" height="8" rx="2"/>
<rect class="bl" x="583" y="733" width="73" height="10"/><rect class="bd" x="585" y="735.5" width="69" height="5" rx="2"/>
<rect class="bl" x="583" y="749" width="88" height="16"/><rect class="bd" x="603" y="753" width="16" height="7" rx="3"/><rect class="bd" x="622" y="752.5" width="16" height="8" rx="3"/><rect class="bd" x="641" y="755" width="12" height="3" rx="1.5" opacity=".6"/>
<rect class="bl" x="583" y="767" width="88" height="13"/><rect class="bd" x="585" y="770.5" width="69" height="6" rx="2"/>
<g class="r" font-size="6"><text x="580" y="711" text-anchor="end">HSPA8</text><text x="580" y="726" text-anchor="end">SKP2</text><text x="580" y="741" text-anchor="end">GAPDH</text>
<text x="580" y="760" text-anchor="end">SKP2</text><text x="580" y="776" text-anchor="end">HSPA8</text>
<text x="654" y="698">kDa</text><text x="656" y="711">-70</text><text x="656" y="726">-45</text><text x="656" y="741">-36</text><text x="670" y="748">kDa</text><text x="671" y="760">-45</text><text x="671" y="776">-70</text>
<text transform="translate(550,722) rotate(-90)" text-anchor="middle">INPUT</text><text transform="translate(550,765) rotate(-90)" text-anchor="middle">IP:HSPA8</text>
<text transform="translate(588,797) rotate(-50)">Sham</text><text transform="translate(604,797) rotate(-50)">CLP</text><text transform="translate(615,806) rotate(-50)">Negative</text><text transform="translate(620,822) rotate(-60)">AAV9-HSPA8</text><text transform="translate(660,796) rotate(-50)">IgG</text></g>
<line x1="555" y1="706" x2="555" y2="738" stroke="#444" stroke-width=".6"/><line x1="555" y1="749" x2="555" y2="780" stroke="#444" stroke-width=".6"/>

<!-- bottom-left charts -->
<path class="ax" d="M44 841V924H128"/>
<g class="s" font-size="4.5" text-anchor="end"><text x="42" y="843">1.5</text><text x="42" y="870">1.0</text><text x="42" y="898">0.5</text><text x="42" y="926">0.0</text></g>
<rect class="bG" x="54" y="868" width="12" height="56"/><rect class="bO" x="73" y="898" width="13" height="26"/><rect class="bB" x="93" y="900" width="12" height="24"/><rect class="bR" x="112" y="880" width="12" height="44"/>
<path d="M60 862V874M79.5 892V905M99 895V905M118 876V885" stroke="#666" fill="none" stroke-width=".7"/>
<path d="M103 865H117" stroke="#333" stroke-width=".8"/><text class="s" x="110" y="863" font-size="6" text-anchor="middle">*</text>
<g class="s" font-size="4.5" fill="#333" text-anchor="middle"><text x="79" y="885">***</text><text x="99" y="885">***</text></g>
<g class="s" font-size="5"><text transform="translate(31,882) rotate(-90)" text-anchor="middle">HSPA8 protein level</text>
<text x="43" y="940" text-anchor="end">CLP</text><text x="48" y="956" text-anchor="end">Negative</text><text x="3" y="972">AAV9-HSPA8</text>
<text x="59" y="940">-</text><text x="79" y="940">+</text><text x="97" y="940">+</text><text x="116" y="940">+</text>
<text x="59" y="956">-</text><text x="80" y="956">-</text><text x="97" y="956">+</text><text x="116" y="956">+</text>
<text x="59" y="972">-</text><text x="80" y="972">-</text><text x="98" y="972">-</text><text x="116" y="972">+</text></g>
<path class="ax" d="M168 844V924H252"/>
<g class="s" font-size="4.5" text-anchor="end"><text x="166" y="846">2.0</text><text x="166" y="866">1.5</text><text x="166" y="886">1.0</text><text x="166" y="906">0.5</text><text x="166" y="926">0.0</text></g>
<rect class="bG" x="178" y="884" width="12" height="40"/><rect class="bO" x="197" y="907" width="13" height="17"/><rect class="bB" x="217" y="910" width="12" height="14"/><rect class="bR" x="236" y="874" width="12" height="50"/>
<path d="M229 854H245" stroke="#333" stroke-width=".8"/><text class="s" x="237" y="852" font-size="6" text-anchor="middle">***</text>
<g class="s" font-size="4.5" fill="#333" text-anchor="middle"><text x="204" y="891">**</text><text x="223" y="899">**</text></g>
<g class="s" font-size="5"><text transform="translate(155,884) rotate(-90)" text-anchor="middle">SKP2 protein level</text>
<text x="168" y="940" text-anchor="end">CLP</text><text x="172" y="956" text-anchor="end">Negative</text><text x="130" y="972">AAV9-HSPA8</text>
<text x="184" y="940">-</text><text x="203" y="940">+</text><text x="222" y="940">+</text><text x="240" y="940">+</text>
<text x="184" y="956">-</text><text x="204" y="956">-</text><text x="222" y="956">+</text><text x="240" y="956">+</text>
<text x="184" y="972">-</text><text x="204" y="972">-</text><text x="223" y="972">-</text><text x="240" y="972">+</text></g>

<!-- M -->
<text class="L" x="250" y="846">M</text>
<rect class="bl" x="325" y="840" width="94" height="16"/><rect class="bd" x="327" y="843" width="20" height="9" rx="3"/><rect class="bd" x="350" y="844" width="18" height="7" rx="3"/><rect class="bd" x="372" y="845.5" width="16" height="4" rx="2" opacity=".7"/><rect class="bd" x="394" y="842.5" width="22" height="10" rx="3"/>
<rect class="bl" x="325" y="859" width="94" height="16"/><rect class="bd" x="327" y="862" width="20" height="9" rx="3"/><rect class="bd" x="350" y="864" width="18" height="6" rx="3"/><rect class="bd" x="372" y="862" width="18" height="8" rx="3"/><rect class="bd" x="394" y="861" width="22" height="9" rx="3"/>
<rect class="bl" x="325" y="879" width="94" height="15"/><rect class="bd" x="327" y="881.5" width="89" height="10" rx="3"/>
<rect class="bl" x="325" y="905" width="114" height="12" style="fill:#ddd"/><rect class="bd" x="350" y="909" width="18" height="4" rx="2" opacity=".6"/><rect class="bd" x="372" y="908" width="20" height="6" rx="2"/><rect class="bd" x="396" y="909" width="14" height="4" rx="2" opacity=".4"/>
<rect class="bl" x="325" y="926" width="114" height="11"/><rect class="bd" x="327" y="929" width="86" height="5" rx="2"/>
<g class="r" font-size="8"><text x="322" y="851" text-anchor="end">HSPA8</text><text x="322" y="870" text-anchor="end">SKP2</text><text x="322" y="890" text-anchor="end">GAPDH</text>
<text x="322" y="914" text-anchor="end">HSPA8</text><text x="322" y="935" text-anchor="end">SKP2</text>
<text x="417" y="838" font-size="7">kDa</text><text x="419" y="851" font-size="7">-70</text><text x="419" y="871" font-size="7">-45</text><text x="419" y="891" font-size="7">-36</text>
<text x="434" y="904" font-size="7">kDa</text><text x="439" y="916" font-size="7">-70</text><text x="439" y="935" font-size="7">-45</text>
<text transform="translate(288,867) rotate(-90)" text-anchor="middle">INPUT</text><text transform="translate(288,915) rotate(-90)" text-anchor="middle">IP:SKP2</text>
<text transform="translate(329,960) rotate(-55)" font-size="7">Sham</text><text transform="translate(350,955) rotate(-55)" font-size="7">CLP</text><text transform="translate(360,970) rotate(-55)" font-size="7">Negative</text><text transform="translate(381,985) rotate(-60)" font-size="7">AAV9-SKP2</text><text transform="translate(421,952) rotate(-55)" font-size="7">IgG</text></g>
<line x1="291" y1="845" x2="291" y2="888" stroke="#444" stroke-width=".6"/><line x1="291" y1="901" x2="291" y2="937" stroke="#444" stroke-width=".6"/>
<path class="ax" d="M489 853V927H565"/>
<g class="s" font-size="4" text-anchor="end"><text x="487" y="855">1.5</text><text x="487" y="880">1.0</text><text x="487" y="904">0.5</text><text x="487" y="928">0.0</text></g>
<rect class="bG" x="498" y="878" width="11" height="49"/><rect class="bO" x="514" y="897" width="11" height="30"/><rect class="bB" x="532" y="908" width="11" height="19"/><rect class="bR" x="549" y="883" width="11" height="44"/>
<path d="M537 872H554" stroke="#333" stroke-width=".8"/><text class="s" x="545" y="870" font-size="5.5" text-anchor="middle">***</text>
<g class="s" font-size="4" fill="#333" text-anchor="middle"><text x="520" y="891">***</text><text x="537" y="900">***</text></g>
<g class="s" font-size="4.5"><text transform="translate(475,890) rotate(-90)" text-anchor="middle">HSPA8 protein level</text>
<text x="487" y="941" text-anchor="end">CLP</text><text x="492" y="956" text-anchor="end">Negative</text><text x="452" y="970">AAV9-SKP2</text>
<text x="503" y="941">-</text><text x="520" y="941">+</text><text x="537" y="941">+</text><text x="553" y="941">+</text>
<text x="503" y="956">-</text><text x="520" y="956">-</text><text x="537" y="956">+</text><text x="553" y="956">+</text>
<text x="503" y="970">-</text><text x="520" y="970">-</text><text x="537" y="970">-</text><text x="553" y="970">+</text></g>
<path class="ax" d="M604 846V925H680"/>
<g class="s" font-size="4" text-anchor="end"><text x="602" y="848">1.5</text><text x="602" y="874">1.0</text><text x="602" y="900">0.5</text><text x="602" y="926">0.0</text></g>
<rect class="bG" x="609" y="872" width="10" height="53"/><rect class="bO" x="627" y="892" width="10" height="33"/><rect class="bB" x="644" y="897" width="11" height="28"/><rect class="bR" x="663" y="882" width="11" height="43"/>
<path d="M652 868H668" stroke="#333" stroke-width=".8"/><text class="s" x="660" y="866" font-size="5.5" text-anchor="middle">*</text>
<g class="s" font-size="4" fill="#333" text-anchor="middle"><text x="632" y="884">**</text><text x="649" y="885">**</text></g>
<g class="s" font-size="4.5"><text transform="translate(591,885) rotate(-90)" text-anchor="middle">SKP2 protein level</text>
<text x="600" y="939" text-anchor="end">CLP</text><text x="602" y="954" text-anchor="end">Negative</text><text x="595" y="969" text-anchor="end">AAV9-SKP2</text>
<text x="616" y="939">-</text><text x="633" y="939">+</text><text x="650" y="939">+</text><text x="667" y="939">+</text>
<text x="616" y="954">-</text><text x="633" y="954">-</text><text x="650" y="954">+</text><text x="667" y="954">+</text>
<text x="616" y="969">-</text><text x="633" y="969">-</text><text x="650" y="969">-</text><text x="667" y="969">+</text></g>
</svg>
</body></html>
